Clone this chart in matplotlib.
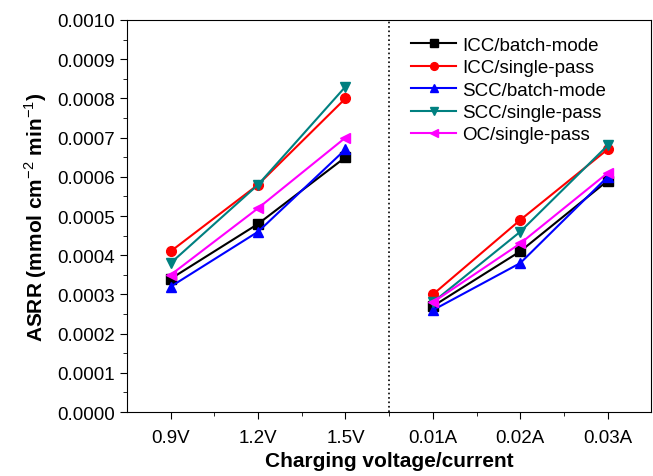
import matplotlib.pyplot as plt
import numpy as np

plt.rcParams['font.family'] = 'Liberation Sans'
plt.rcParams['mathtext.fontset'] = 'custom'
plt.rcParams['mathtext.rm'] = 'Liberation Sans'
plt.rcParams['mathtext.bf'] = 'Liberation Sans:bold'

labels = ['0.9V', '1.2V', '1.5V', '0.01A', '0.02A', '0.03A']

icc_batch = [0.00034, 0.00048, 0.00065, 0.00027, 0.00041, 0.00059]
icc_single = [0.00041, 0.00058, 0.00080, 0.00030, 0.00049, 0.00067]
scc_batch = [0.00032, 0.00046, 0.00067, 0.00026, 0.00038, 0.00060]
scc_single = [0.00038, 0.00058, 0.00083, 0.00028, 0.00046, 0.00068]
oc_single = [0.00035, 0.00052, 0.00070, 0.00028, 0.00043, 0.00061]

series = [
    ('ICC/batch-mode', icc_batch, 'black', 's'),
    ('ICC/single-pass', icc_single, 'red', 'o'),
    ('SCC/batch-mode', scc_batch, 'blue', '^'),
    ('SCC/single-pass', scc_single, '#008080', 'v'),
    ('OC/single-pass', oc_single, 'magenta', '<'),
]

fig = plt.figure(figsize=(6.53, 4.77), dpi=100)
ax = fig.add_axes([0.1945, 0.134, 0.803, 0.822])

x = np.arange(1, 7)
for name, y, c, m in series:
    y = np.array(y)
    ax.plot(x[:3], y[:3], color=c, marker=m, markersize=7, lw=1.5, label=name)
    ax.plot(x[3:], y[3:], color=c, marker=m, markersize=7, lw=1.5)

ax.axvline(3.5, color='black', linestyle=':', lw=1.2)

ax.set_xlim(0.5, 6.5)
ax.set_ylim(0, 0.001)
ax.set_xticks(x)
ax.set_xticklabels(labels)
ax.set_xticks(np.arange(1.5, 6.5, 1), minor=True)
ax.set_yticks(np.arange(0, 0.00101, 0.0001))
ax.set_yticklabels(['%.4f' % v for v in np.arange(0, 0.00101, 0.0001)])
ax.set_yticks(np.arange(0.00005, 0.001, 0.0001), minor=True)
ax.tick_params(axis='both', which='major', labelsize=13.5, length=5, direction='out')
ax.tick_params(axis='x', which='major', pad=7)
ax.tick_params(axis='both', which='minor', length=3, direction='out')

ax.set_xlabel('Charging voltage/current', fontsize=15, fontweight='bold', labelpad=4)
ax.set_ylabel(r'ASRR (mmol cm$^{-2}$ min$^{-1}$)', fontsize=15, fontweight='bold', labelpad=6)

ax.legend(loc='upper left', bbox_to_anchor=(0.51, 1.0), frameon=False, fontsize=13.5,
          handlelength=2.4, labelspacing=0.28, handletextpad=0.3, markerscale=0.8)

fig.savefig('out.png', dpi=100)
